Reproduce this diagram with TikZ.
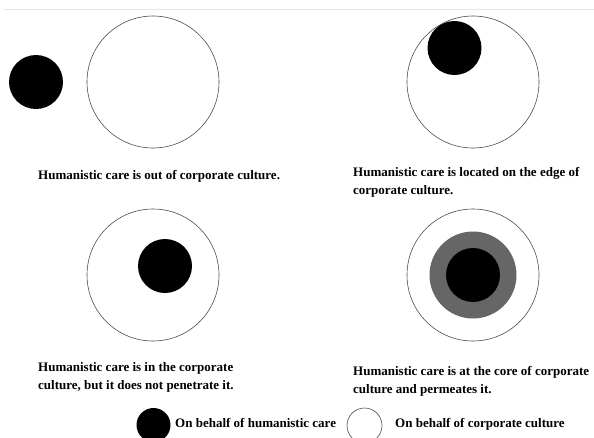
\documentclass[tikz,border=0pt]{standalone}
\usepackage{fontspec}
\setmainfont{Liberation Serif}
\usepackage{tikz}

\tikzset{
  caption/.style={anchor=north west, inner sep=0pt, align=left,
                  font=\bfseries\fontsize{13}{18}\selectfont},
  outline/.style={draw=black!70, line width=0.6pt, fill=white}
}

\begin{document}
\begin{tikzpicture}[x=1pt, y=-1pt]

% fix the page
\useasboundingbox[fill=white] (0, 0) rectangle (594, 437);

% draw thin top rule
\draw[color=black!10, line width=0.8pt] (4, 9.5) -- (594, 9.5);

% draw case one: outside
\draw[outline] (153, 82) circle (66);
\fill[black] (36, 82) circle (27);

% draw case two: on the edge
\draw[outline] (473, 82) circle (66);
\fill[black] (454.5, 48) circle (27);

% draw case three: inside
\draw[outline] (153, 275) circle (66);
\fill[black] (165, 266) circle (27);

% draw case four: at the core
\draw[outline] (473, 275) circle (66);
\fill[black!60] (473, 275) circle (43.5);
\fill[black] (473, 275) circle (27);

% draw labels
\node[caption] (out)  at (38, 170)  {Humanistic care is out of corporate culture.};
\node[caption] (edge) at (353, 167) {Humanistic care is located on the edge of\\corporate culture.};
\node[caption] (in)   at (38, 362)  {Humanistic care is in the corporate\\culture, but it does not penetrate it.};
\node[caption] (core) at (353, 366) {Humanistic care is at the core of corporate\\culture and permeates it.};

% draw legend
\fill[black] (153.5, 425) circle (17);
\draw[outline] (364.5, 425.5) circle (17.5);
\node[caption] (care)    at (175, 418) {On behalf of humanistic care};
\node[caption] (culture) at (395, 418) {On behalf of corporate culture};

\end{tikzpicture}
\end{document}
